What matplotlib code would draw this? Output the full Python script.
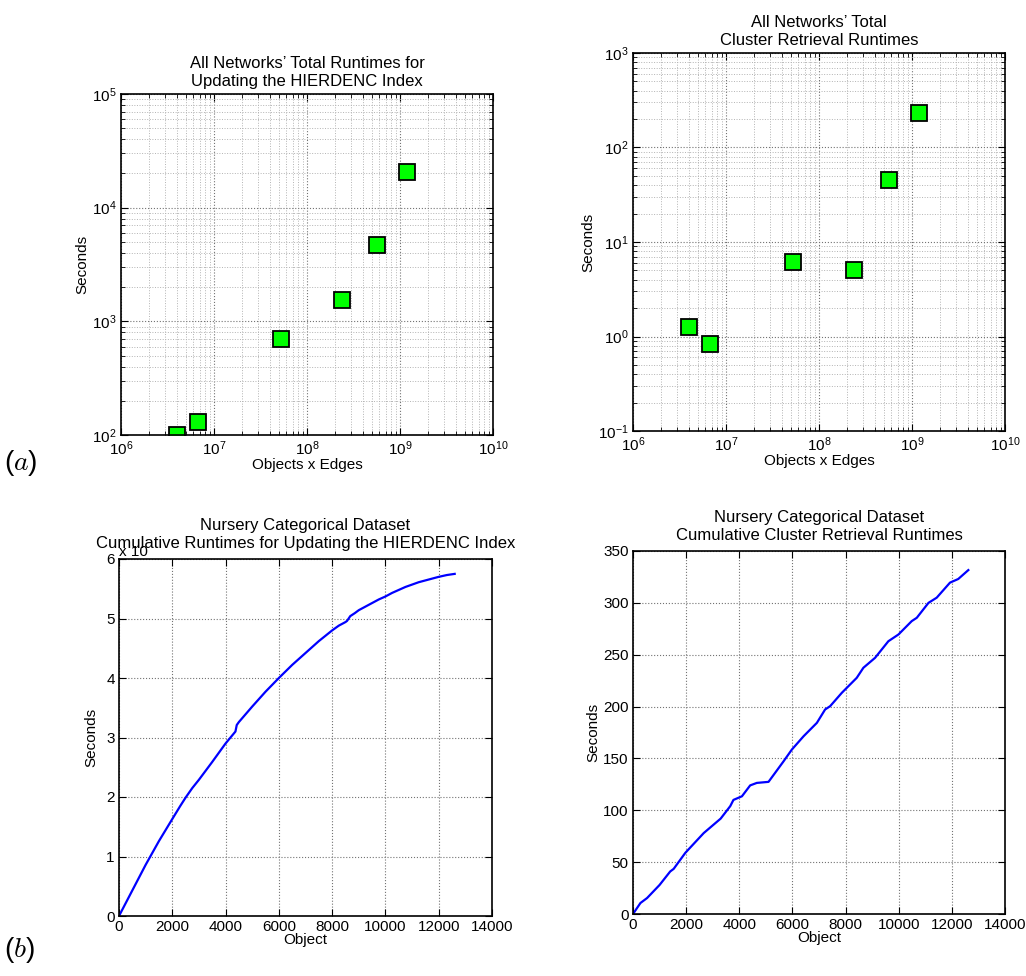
import numpy as np
import matplotlib
matplotlib.use("Agg")
from matplotlib import pyplot as plt
from matplotlib.ticker import LogLocator, NullFormatter

plt.rcParams['font.family'] = ['Liberation Sans', 'DejaVu Sans']
plt.rcParams['mathtext.default'] = 'regular'

# (a) all networks: objects x edges vs seconds
obj_edges = [4.0e6, 6.7e6, 5.2e7, 2.4e8, 5.7e8, 1.18e9]
update_secs = [100, 129, 695, 1545, 4650, 20600]
retrieval_secs = [1.26, 0.84, 6.1, 5.0, 45, 232]

# (b) nursery dataset: cumulative update runtimes (units of 1e4 s)
upd_obj = [0, 500, 1000, 1500, 2000, 2300, 2500, 2750, 3000, 3500, 4000, 4370, 4420,
           4500, 5000, 5500, 6000, 6500, 7000, 7500, 8000, 8250, 8500, 8560, 8680,
           8850, 9000, 9250, 9500, 9750, 10000, 10250, 10500, 10750, 11000, 11250,
           11500, 11750, 12000, 12300, 12600]
upd_cum = [0, 0.43, 0.86, 1.26, 1.63, 1.85, 1.99, 2.15, 2.29, 2.59, 2.90, 3.10, 3.21,
           3.26, 3.52, 3.77, 4.00, 4.22, 4.42, 4.62, 4.80, 4.88, 4.94, 4.96, 5.04,
           5.09, 5.14, 5.20, 5.26, 5.32, 5.37, 5.43, 5.48, 5.53, 5.57, 5.61,
           5.64, 5.67, 5.70, 5.73, 5.75]

# (b) nursery dataset: cumulative cluster retrieval runtimes (s)
ret_obj = [0, 280, 530, 1000, 1400, 1530, 1970, 2660, 3300, 3660, 3780,
           4100, 4410, 4660, 5100, 5660, 5980, 6420, 6920, 7230, 7420, 7860,
           8420, 8670, 9110, 9610, 9990, 10490, 10680, 11120, 11430, 11930,
           12240, 12620]
ret_cum = [0, 10.6, 15.4, 28, 41, 43.5, 59, 78, 92, 104, 110,
           113.5, 124, 126.4, 127.4, 147, 158.6, 171.4, 184.3, 197.2, 200.4, 213.3,
           227.7, 237.4, 247, 263, 269.5, 282.4, 285.6, 300, 305, 319.5,
           323, 331.6]

W, H = 1026, 976
fig = plt.figure(figsize=(W / 100, H / 100), dpi=100)


def add_ax(l, t, r, b):
    return fig.add_axes([l / W, 1 - b / H, (r - l) / W, (b - t) / H])


def style(ax, log=False):
    ax.tick_params(direction='in', top=True, right=True, which='both',
                   labelsize=11, pad=3)
    ax.tick_params(which='major', length=5)
    ax.tick_params(which='minor', length=3)
    for s in ax.spines.values():
        s.set_linewidth(1.2)
    ax.grid(True, which='major', linestyle=':', color='0.45', linewidth=0.8)
    if log:
        ax.grid(True, which='minor', linestyle=':', color='0.7', linewidth=0.7)
        for axis in (ax.xaxis, ax.yaxis):
            axis.set_minor_locator(LogLocator(base=10, subs=np.arange(2, 10), numticks=20))
            axis.set_minor_formatter(NullFormatter())
    ax.set_axisbelow(True)


mk = dict(marker='s', markersize=11, markerfacecolor='#00ff00',
          markeredgecolor='black', markeredgewidth=1.3, linestyle='none')

# top left
ax1 = add_ax(121, 94, 493, 435)
ax1.loglog(obj_edges, update_secs, **mk)
ax1.set_xlim(1e6, 1e10)
ax1.set_ylim(1e2, 1e5)
style(ax1, log=True)
ax1.set_title("All Networks’ Total Runtimes for\nUpdating the HIERDENC Index",
              fontsize=12, pad=6)
ax1.set_xlabel("Objects x Edges", fontsize=11, labelpad=0)
ax1.set_ylabel("Seconds", fontsize=11, labelpad=2)

# top right
ax2 = add_ax(633, 53, 1005, 431)
ax2.loglog(obj_edges, retrieval_secs, **mk)
ax2.set_xlim(1e6, 1e10)
ax2.set_ylim(1e-1, 1e3)
style(ax2, log=True)
ax2.set_title("All Networks’ Total\nCluster Retrieval Runtimes",
              fontsize=12, pad=6)
ax2.set_xlabel("Objects x Edges", fontsize=11, labelpad=0)
ax2.set_ylabel("Seconds", fontsize=11, labelpad=2)

# bottom left
ax3 = add_ax(119, 559, 492, 916)
ax3.plot(upd_obj, upd_cum, color='blue', linewidth=1.6)
ax3.set_xlim(0, 14000)
ax3.set_ylim(0, 6)
ax3.set_xticks(np.arange(0, 14001, 2000))
ax3.set_yticks(np.arange(0, 7, 1))
style(ax3)
ax3.set_title("Nursery Categorical Dataset\nCumulative Runtimes for Updating the HIERDENC Index",
              fontsize=12, pad=8)
ax3.set_xlabel("Object", fontsize=11, labelpad=-1)
ax3.set_ylabel("Seconds", fontsize=11, labelpad=6)
ax3.text(0.0, 1.0, "x 10", transform=ax3.transAxes, fontsize=11,
         ha='left', va='bottom', zorder=0)

# bottom right
ax4 = add_ax(633, 551, 1005, 914)
ax4.plot(ret_obj, ret_cum, color='blue', linewidth=1.6)
ax4.set_xlim(0, 14000)
ax4.set_ylim(0, 350)
ax4.set_xticks(np.arange(0, 14001, 2000))
ax4.set_yticks(np.arange(0, 351, 50))
style(ax4)
ax4.set_title("Nursery Categorical Dataset\nCumulative Cluster Retrieval Runtimes",
              fontsize=12, pad=8)
ax4.set_xlabel("Object", fontsize=11, labelpad=-1)
ax4.set_ylabel("Seconds", fontsize=11, labelpad=2)

fig.text(4 / W, 1 - 463 / H, r"$(\mathit{a})$", fontsize=20, math_fontfamily='cm',
         ha='left', va='center')
fig.text(4 / W, 1 - 950 / H, r"$(\mathit{b})$", fontsize=20, math_fontfamily='cm',
         ha='left', va='center')

fig.savefig("out.png", dpi=100)
